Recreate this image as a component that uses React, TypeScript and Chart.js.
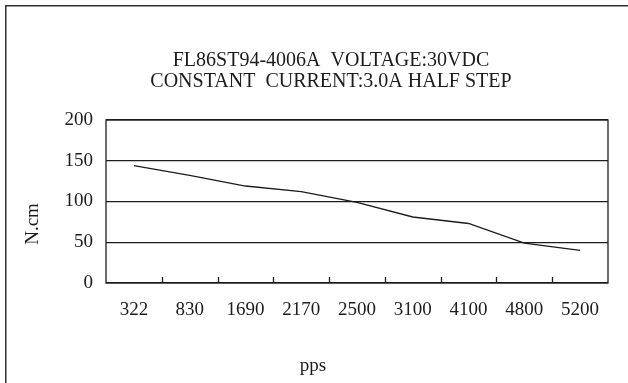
import React, { useEffect, useRef } from "react";
import { Chart, registerables } from "chart.js";

Chart.register(...registerables);

const categories = ["322", "830", "1690", "2170", "2500", "3100", "4100", "4800", "5200"];
const torque = [144, 132, 119, 112, 99, 81, 73, 49, 40];
const titleLines = ["FL86ST94-4006A  VOLTAGE:30VDC", "CONSTANT  CURRENT:3.0A HALF STEP"];
const yTitle = "N.cm";
const xTitle = "pps";
const yMin = 0;
const yMax = 200;
const yStep = 50;

const FONT = "'Liberation Serif', 'Times New Roman', serif";
const INK = "#1c1c1c";

const framePlugin = {
  id: "frame",
  beforeDraw(chart: any) {
    const ctx = chart.ctx;
    ctx.save();
    ctx.strokeStyle = "#333";
    ctx.lineWidth = 1.5;
    ctx.strokeRect(5.75, 5.75, 1000, 1000);
    ctx.restore();
  },
  afterDraw(chart: any) {
    const { ctx, chartArea } = chart;
    const { left, right, top, bottom } = chartArea;
    ctx.save();
    ctx.strokeStyle = INK;
    ctx.lineWidth = 1.3;
    ctx.strokeRect(left, top, right - left, bottom - top);
    // inward tick marks at category boundaries
    const xs = chart.scales.x;
    const n = categories.length;
    ctx.beginPath();
    for (let i = 1; i < n; i++) {
      const x = Math.round((xs.getPixelForValue(i - 1) + xs.getPixelForValue(i)) / 2) + 0.5;
      ctx.moveTo(x, bottom);
      ctx.lineTo(x, bottom - 6);
    }
    ctx.stroke();
    // axis titles
    ctx.fillStyle = INK;
    ctx.font = "19px " + FONT;
    ctx.textAlign = "center";
    ctx.textBaseline = "middle";
    ctx.fillText(xTitle, 313, 366);
    ctx.translate(33, 224);
    ctx.rotate(-Math.PI / 2);
    ctx.fillText(yTitle, 0, 0);
    ctx.restore();
  },
};

export default function App() {
  const ref = useRef<HTMLCanvasElement | null>(null);
  useEffect(() => {
    if (!ref.current) return;
    const chart = new Chart(ref.current, {
      type: "line",
      data: {
        labels: categories,
        datasets: [
          {
            data: torque,
            borderColor: INK,
            borderWidth: 1.3,
            pointRadius: 0,
            tension: 0,
            fill: false,
          },
        ],
      },
      options: {
        responsive: false,
        animation: false,
        layout: { padding: { left: 54, right: 20, top: 0, bottom: 0 } },
        plugins: {
          legend: { display: false },
          tooltip: { enabled: false },
          title: {
            display: true,
            text: titleLines,
            color: INK,
            font: { family: FONT, size: 20, weight: "normal", lineHeight: 1.05 },
            padding: { top: 50, bottom: 28 },
          },
        },
        scales: {
          x: {
            offset: true,
            grid: { display: false, drawTicks: false },
            border: { display: false },
            ticks: {
              color: INK,
              font: { family: FONT, size: 19 },
              padding: 16,
              maxRotation: 0,
              autoSkip: false,
            },
            afterFit(scale: any) {
              scale.height = 100;
            },
          },
          y: {
            min: yMin,
            max: yMax,
            grid: { color: INK, lineWidth: 1.3, drawTicks: false },
            border: { display: false },
            ticks: {
              stepSize: yStep,
              color: INK,
              font: { family: FONT, size: 19 },
              padding: 13,
            },
            afterFit(scale: any) {
              scale.width = 52;
            },
          },
        },
      },
      plugins: [framePlugin],
    });
    return () => chart.destroy();
  }, []);
  return (
    <div style={{ position: "absolute", left: 0, top: 0, width: 628, height: 383, background: "#fff" }}>
      <canvas ref={ref} width={628} height={383} />
    </div>
  );
}
